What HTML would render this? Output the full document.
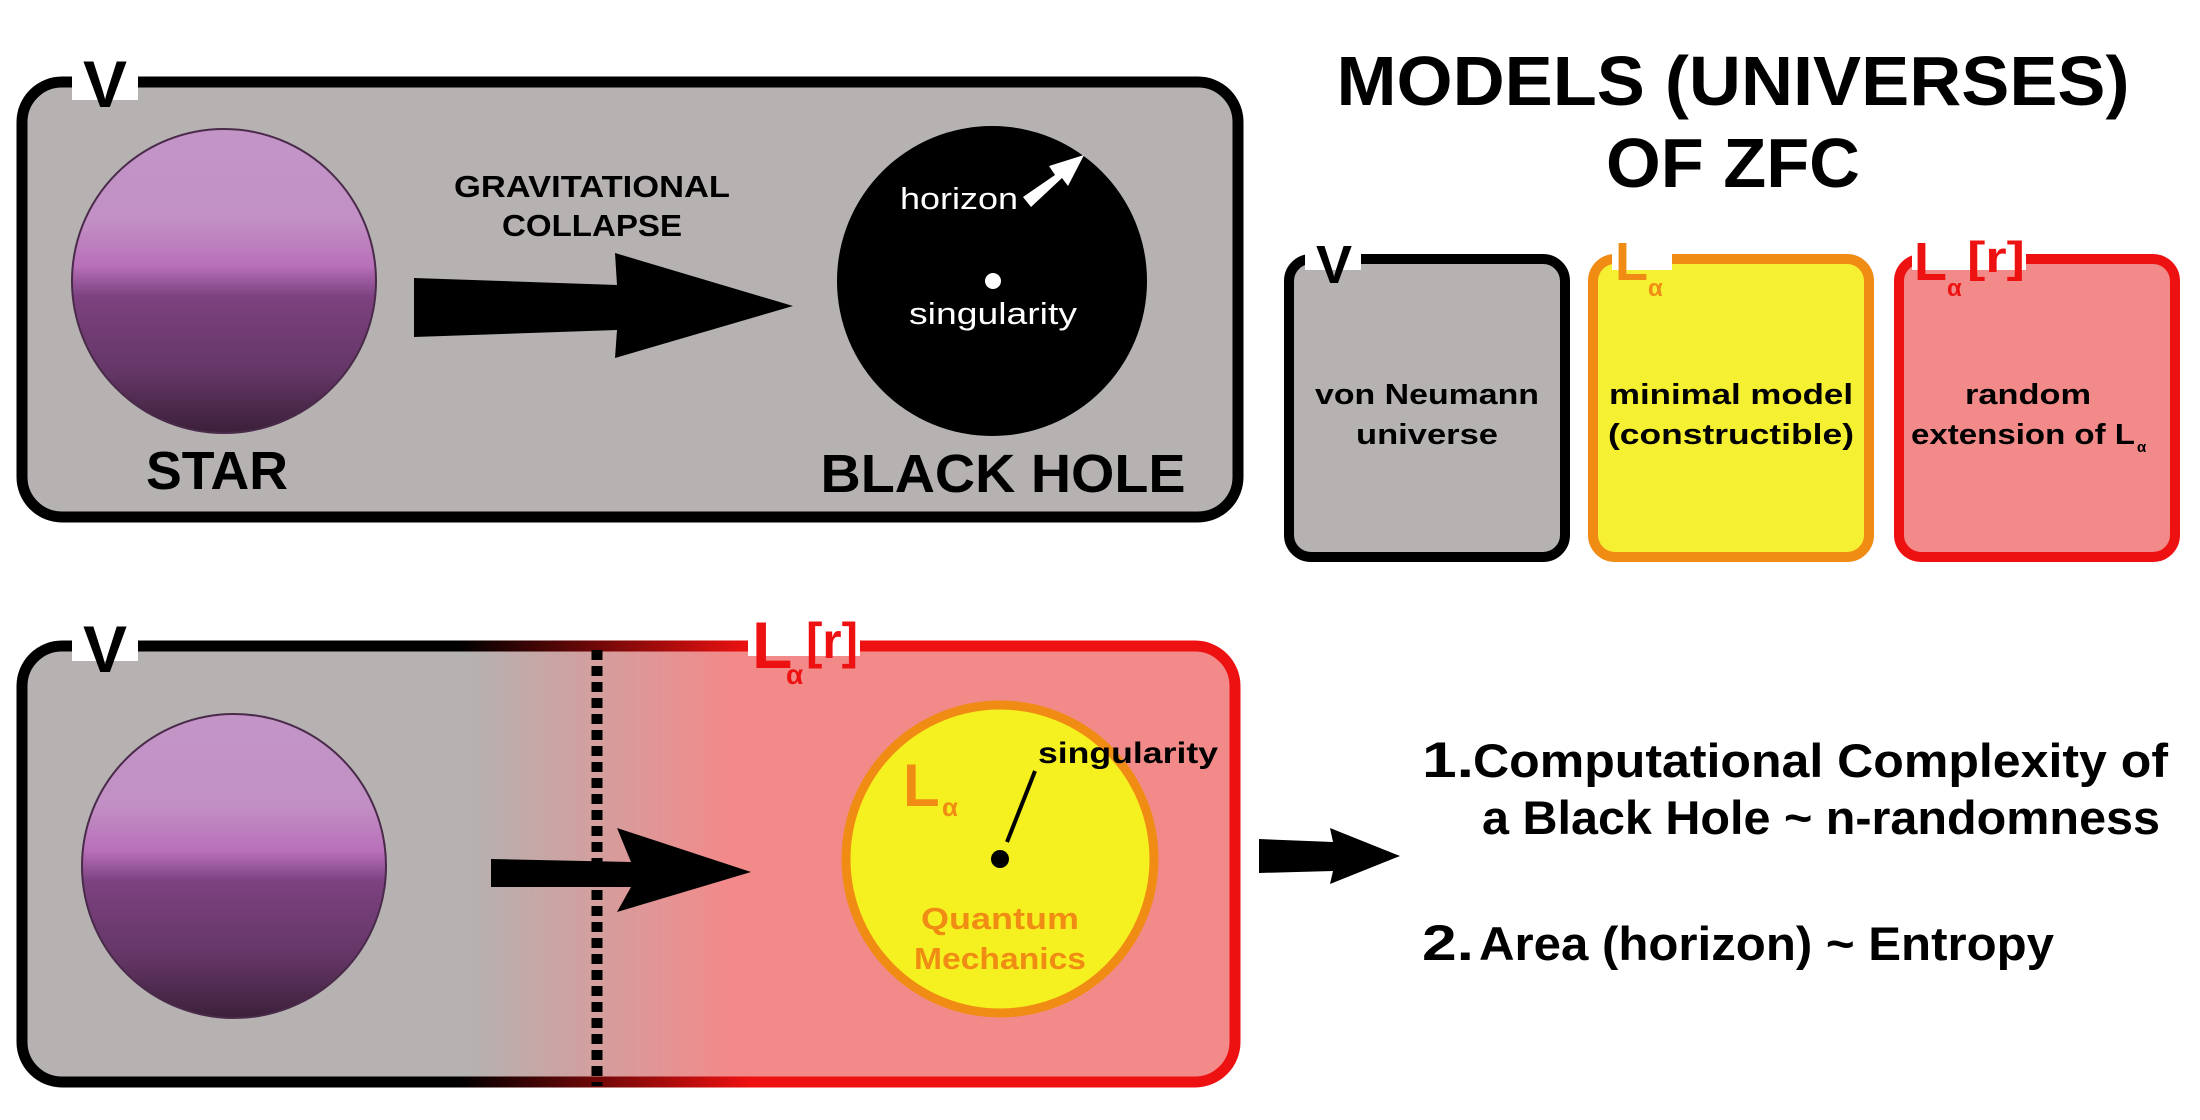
<!DOCTYPE html>
<html><head><meta charset="utf-8"><style>
html,body{margin:0;padding:0;background:#fff;}
svg{display:block;}
text{font-family:"Liberation Sans",sans-serif;font-weight:bold;}
</style></head><body>
<svg width="2200" height="1120" viewBox="0 0 2200 1120" xmlns="http://www.w3.org/2000/svg">
<defs>
<linearGradient id="sphv" x1="0" y1="0" x2="0" y2="1">
<stop offset="0" stop-color="#c395c7"/>
<stop offset="0.3" stop-color="#c290c4"/>
<stop offset="0.45" stop-color="#b870b9"/>
<stop offset="0.55" stop-color="#7c4280"/>
<stop offset="0.8" stop-color="#643666"/>
<stop offset="1" stop-color="#3b2039"/>
</linearGradient>
<linearGradient id="bfill" gradientUnits="userSpaceOnUse" x1="17" y1="0" x2="1240" y2="0">
<stop offset="0" stop-color="#b5b2b1"/>
<stop offset="0.37" stop-color="#b5b2b1"/>
<stop offset="0.58" stop-color="#f28a8a"/>
<stop offset="1" stop-color="#f28a8a"/>
</linearGradient>
<linearGradient id="bstroke" gradientUnits="userSpaceOnUse" x1="17" y1="0" x2="1240" y2="0">
<stop offset="0" stop-color="#000"/>
<stop offset="0.36" stop-color="#000"/>
<stop offset="0.6" stop-color="#ee1111"/>
<stop offset="1" stop-color="#ee1111"/>
</linearGradient>
</defs>

<!-- TOP BOX -->
<rect x="22" y="82" width="1216" height="435" rx="40" fill="#b5b2b1" stroke="#000" stroke-width="11"/>
<rect x="72" y="60" width="66" height="40" fill="#fff"/>
<text x="105" y="107" font-size="66" text-anchor="middle" fill="#000">V</text>

<circle cx="224" cy="281" r="152" fill="url(#sphv)" stroke="#4a2a4a" stroke-width="2"/>
<text x="592" y="197" font-size="31" text-anchor="middle" textLength="276" lengthAdjust="spacingAndGlyphs">GRAVITATIONAL</text>
<text x="592" y="236" font-size="31" text-anchor="middle" textLength="180" lengthAdjust="spacingAndGlyphs">COLLAPSE</text>
<polygon points="414,278 617,285 615,253 793,306 615,358 617,330 414,337" fill="#000"/>
<circle cx="992" cy="281" r="155" fill="#000"/>
<text x="900" y="209" font-size="31" fill="#fff" style="font-weight:normal" textLength="118" lengthAdjust="spacingAndGlyphs">horizon</text>
<polygon points="1023,197 1055,175 1049,166 1084,155 1068,186 1062,178 1031,207" fill="#fff"/>
<circle cx="993" cy="281" r="8" fill="#fff"/>
<text x="993" y="324" font-size="31" fill="#fff" text-anchor="middle" style="font-weight:normal" textLength="168" lengthAdjust="spacingAndGlyphs">singularity</text>
<text x="217" y="489" font-size="54" text-anchor="middle" textLength="142" lengthAdjust="spacingAndGlyphs">STAR</text>
<text x="1003" y="492" font-size="54" text-anchor="middle" textLength="365" lengthAdjust="spacingAndGlyphs">BLACK HOLE</text>

<!-- TITLE -->
<text x="1733" y="105" font-size="70" text-anchor="middle" textLength="793" lengthAdjust="spacingAndGlyphs">MODELS (UNIVERSES)</text>
<text x="1733" y="187" font-size="70" text-anchor="middle" textLength="254" lengthAdjust="spacingAndGlyphs">OF ZFC</text>

<!-- SMALL BOXES -->
<rect x="1289" y="259" width="276" height="298" rx="22" fill="#b5b2b1" stroke="#000" stroke-width="10"/>
<rect x="1305" y="240" width="56" height="30" fill="#fff"/>
<text x="1334" y="283" font-size="54" text-anchor="middle">V</text>
<text x="1427" y="404" font-size="29" text-anchor="middle" textLength="224" lengthAdjust="spacingAndGlyphs">von Neumann</text>
<text x="1427" y="444" font-size="29" text-anchor="middle" textLength="142" lengthAdjust="spacingAndGlyphs">universe</text>

<rect x="1593" y="259" width="276" height="298" rx="22" fill="#f5f032" stroke="#f08c14" stroke-width="10"/>
<rect x="1612" y="240" width="60" height="30" fill="#fff"/>
<text x="1615" y="280" font-size="54" fill="#f08c14">L</text>
<text x="1648" y="296" font-size="24" fill="#f08c14">α</text>
<text x="1731" y="404" font-size="29" text-anchor="middle" textLength="244" lengthAdjust="spacingAndGlyphs">minimal model</text>
<text x="1731" y="444" font-size="29" text-anchor="middle" textLength="246" lengthAdjust="spacingAndGlyphs">(constructible)</text>

<rect x="1899" y="259" width="276" height="298" rx="22" fill="#f28a8a" stroke="#ee1111" stroke-width="10"/>
<rect x="1912" y="240" width="114" height="30" fill="#fff"/>
<text x="1914" y="280" font-size="54" fill="#ee1111">L</text>
<text x="1947" y="296" font-size="24" fill="#ee1111">α</text>
<text x="1967" y="272" font-size="44" fill="#ee1111" textLength="58" lengthAdjust="spacingAndGlyphs">[r]</text>
<text x="2028" y="404" font-size="29" text-anchor="middle" textLength="126" lengthAdjust="spacingAndGlyphs">random</text>
<text x="1911" y="444" font-size="29" textLength="224" lengthAdjust="spacingAndGlyphs">extension of L</text>
<text x="2137" y="452" font-size="15">α</text>

<!-- BOTTOM BOX -->
<rect x="22" y="646" width="1213" height="436" rx="40" fill="url(#bfill)" stroke="url(#bstroke)" stroke-width="11"/>
<rect x="72" y="625" width="66" height="36" fill="#fff"/>
<text x="105" y="672" font-size="66" text-anchor="middle" fill="#000">V</text>
<rect x="748" y="620" width="112" height="36" fill="#fff"/>
<text x="752" y="668" font-size="66" fill="#ee1111">L</text>
<text x="786" y="684" font-size="28" fill="#ee1111">α</text>
<text x="806" y="658" font-size="50" fill="#ee1111" textLength="52" lengthAdjust="spacingAndGlyphs">[r]</text>

<circle cx="234" cy="866" r="152" fill="url(#sphv)" stroke="#4a2a4a" stroke-width="2"/>
<polygon points="491,859 631,862 617,828 751,872 617,912 631,887 491,887" fill="#000"/>
<line x1="597" y1="650" x2="597" y2="1086" stroke="#000" stroke-width="11" stroke-dasharray="10,6"/>

<circle cx="1000" cy="859" r="154" fill="#f5f020" stroke="#f08c14" stroke-width="9"/>
<text x="903" y="806" font-size="60" fill="#f08c14">L</text>
<text x="942" y="816" font-size="26" fill="#f08c14">α</text>
<text x="1038" y="763" font-size="30" textLength="180" lengthAdjust="spacingAndGlyphs">singularity</text>
<line x1="1035" y1="771" x2="1007" y2="842" stroke="#000" stroke-width="4"/>
<circle cx="1000" cy="859" r="9" fill="#000"/>
<text x="1000" y="929" font-size="31" fill="#f08c14" text-anchor="middle" textLength="158" lengthAdjust="spacingAndGlyphs">Quantum</text>
<text x="1000" y="969" font-size="31" fill="#f08c14" text-anchor="middle" textLength="172" lengthAdjust="spacingAndGlyphs">Mechanics</text>

<polygon points="1259,839 1333,842 1330,828 1400,856 1330,884 1333,871 1259,873" fill="#000"/>

<text x="1422" y="777" font-size="50" textLength="52" lengthAdjust="spacingAndGlyphs">1.</text>
<text x="1473" y="777" font-size="47" textLength="695" lengthAdjust="spacingAndGlyphs">Computational Complexity of</text>
<text x="1482" y="834" font-size="47" textLength="678" lengthAdjust="spacingAndGlyphs">a Black Hole ~ n-randomness</text>
<text x="1422" y="960" font-size="50" textLength="52" lengthAdjust="spacingAndGlyphs">2.</text>
<text x="1479" y="960" font-size="47" textLength="575" lengthAdjust="spacingAndGlyphs">Area (horizon) ~ Entropy</text>
</svg>
</body></html>
